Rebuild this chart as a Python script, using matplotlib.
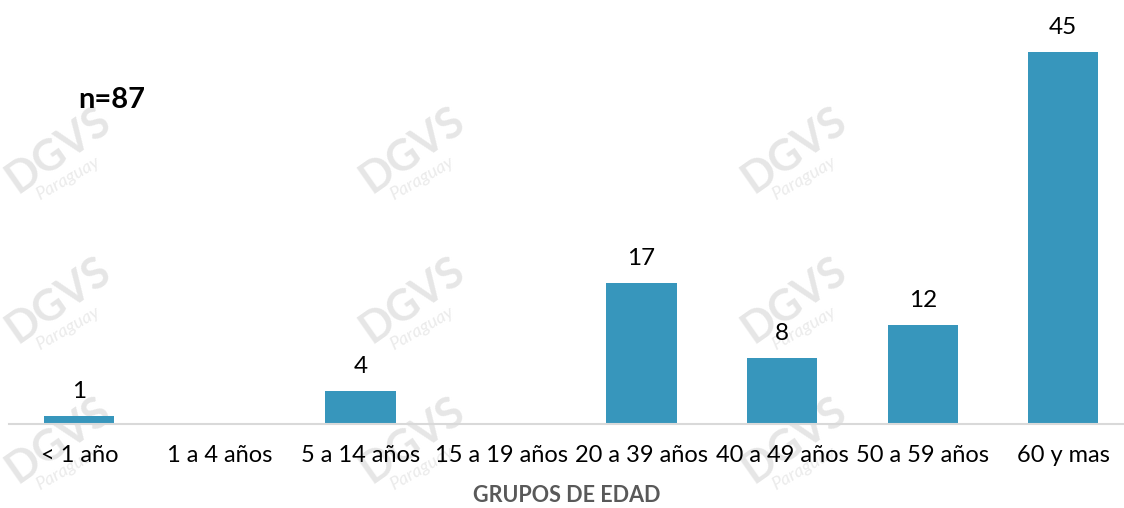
import matplotlib
matplotlib.use("Agg")
import matplotlib.pyplot as plt

# datos
grupos = ["< 1 año", "1 a 4 años", "5 a 14 años", "15 a 19 años",
          "20 a 39 años", "40 a 49 años", "50 a 59 años", "60 y mas"]
casos = [1, 0, 4, 0, 17, 8, 12, 45]
total_n = 87

plt.rcParams['font.family'] = ['Lato', 'DejaVu Sans']

fig = plt.figure(figsize=(11.24, 5.08), dpi=100)

# marca de agua DGVS Paraguay (en pixeles de la imagen)
marca_x = [58, 412, 794]
marca_y = [150, 300, 440]
for mx in marca_x:
    for my in marca_y:
        fig.text(mx / 1124, 1 - my / 508, "DGVS", fontsize=31, fontweight="bold",
                 color="#e6e6e6", rotation=35, ha="center", va="center", zorder=-1)
        fig.text((mx + 10) / 1124, 1 - (my + 28) / 508, "Paraguay", fontsize=13,
                 fontstyle="italic", color="#ebebeb", rotation=30,
                 ha="center", va="center", zorder=-1)

ax = fig.add_axes([9 / 1124, 84 / 508, 1124.6 / 1124, 50 * 8.27 / 508])
ax.patch.set_alpha(0)

x = list(range(len(grupos)))
ax.bar(x, casos, width=0.5, color="#3796BC", zorder=2)
for xi, v in zip(x, casos):
    if v > 0:
        ax.text(xi, v + 1.7, str(v), ha="center", va="bottom", fontsize=17.5, color="black")

ax.set_xlim(-0.5, 7.5)
ax.set_ylim(0, 50)
ax.set_yticks([])
ax.set_xticks(x)
ax.set_xticklabels(grupos, fontsize=17)
ax.tick_params(axis="x", length=0, pad=15)
for s in ["top", "right", "left"]:
    ax.spines[s].set_visible(False)
ax.spines["bottom"].set_color("#d9d9d9")
ax.spines["bottom"].set_linewidth(1.5)

fig.text(567 / 1124, 1 - 496 / 508, "GRUPOS DE EDAD", fontsize=15.5, fontweight="bold",
         color="#595959", ha="center", va="center")
fig.text(78 / 1124, 1 - 100 / 508, "n=%d" % total_n, fontsize=21, fontweight="bold",
         color="black", ha="left", va="center")

fig.savefig("out.png", dpi=100)
